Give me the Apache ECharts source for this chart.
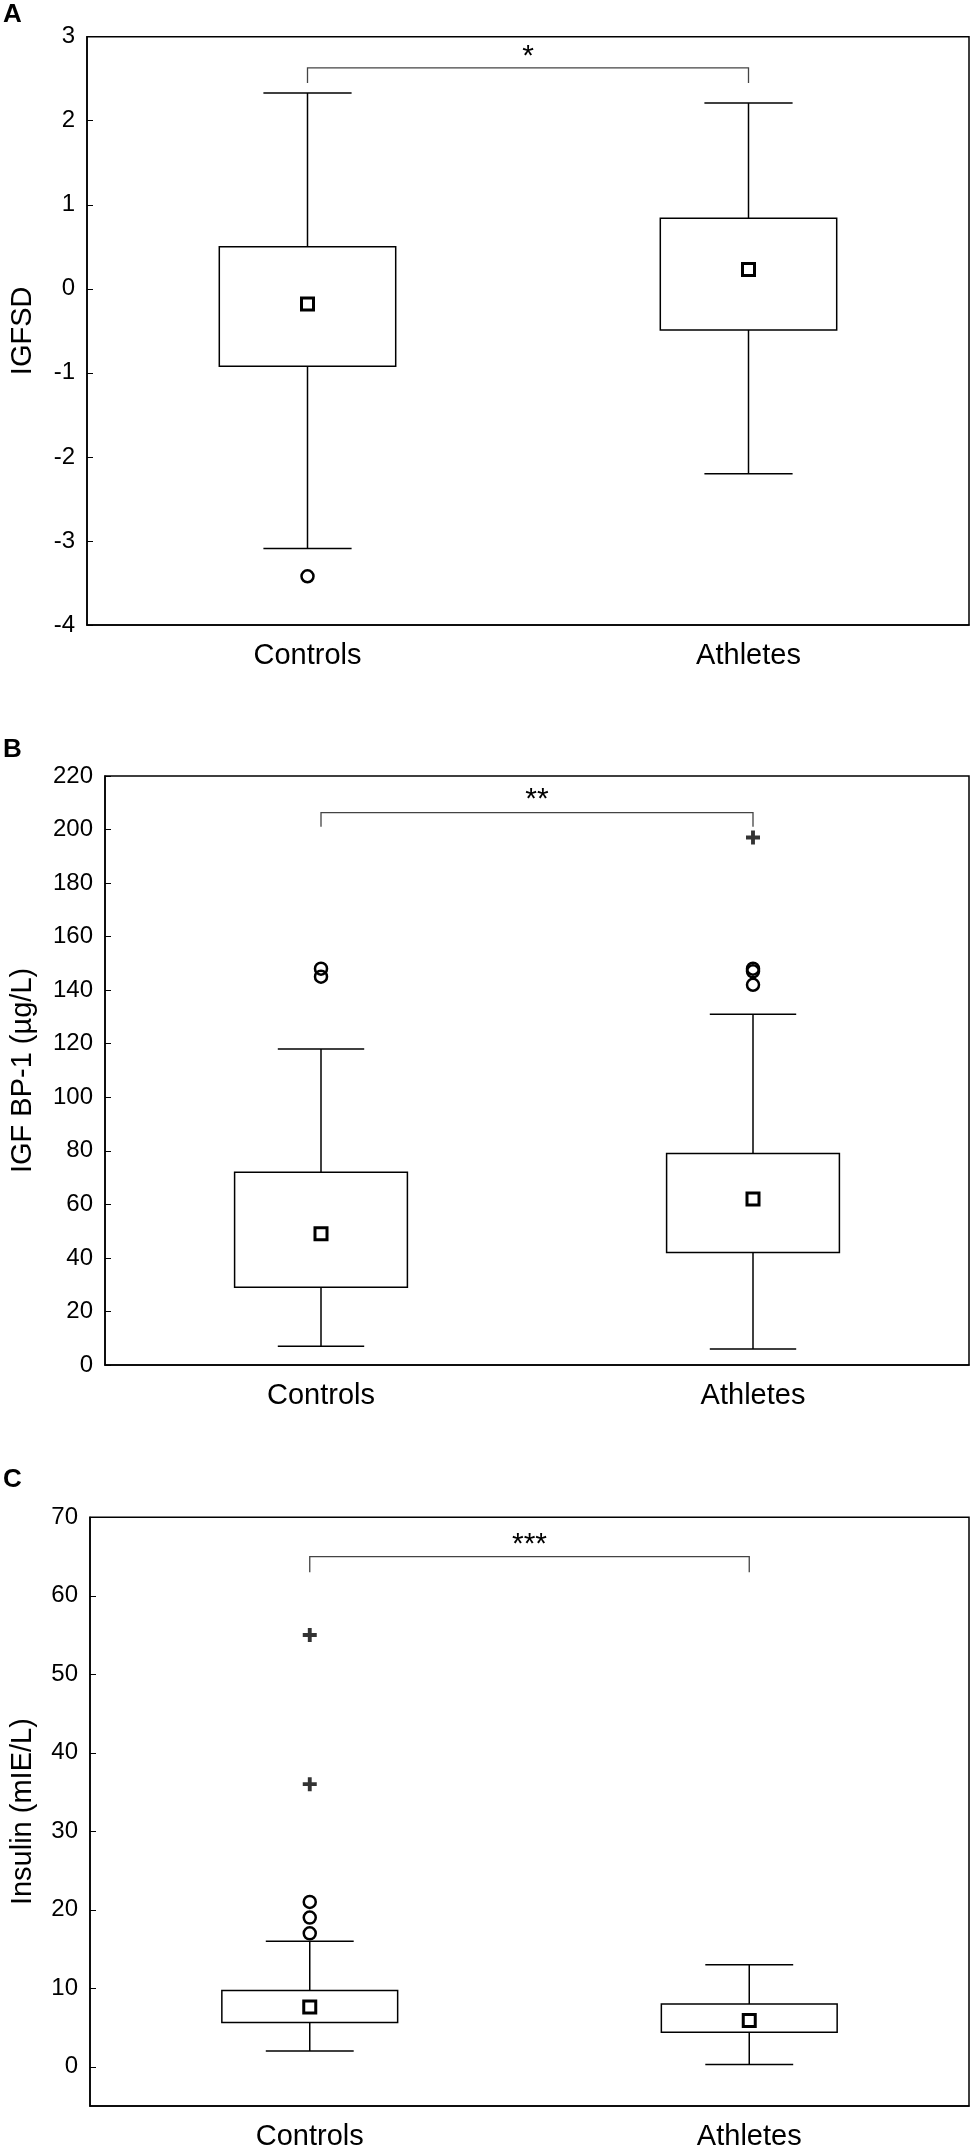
<!DOCTYPE html>
<html>
<head>
<meta charset="utf-8">
<script src="https://cdn.jsdelivr.net/npm/echarts@6/dist/echarts.min.js"></script>
<style>
  html, body { margin: 0; padding: 0; background: #fff; }
  #chart { width: 973px; height: 2151px; }
</style>
</head>
<body>
<div id="chart"></div>
<script>
var categories = ['Controls', 'Athletes'];

// box values: [min, q1, mean, q3, max]
var igfsdBox = [[-3.09, -0.92, -0.18, 0.5, 2.33], [-2.2, -0.49, 0.23, 0.84, 2.21]];
var igfsdOutliers = [[0, -3.42]];
var igfsdExtremes = [];

var bp1Box = [[7, 29, 49, 72, 118], [6, 42, 62, 79, 131]];
var bp1Outliers = [[0, 148], [0, 145], [1, 148], [1, 147], [1, 142]];
var bp1Extremes = [[1, 197]];

var insulinBox = [[2, 5.65, 7.6, 9.7, 16], [0.3, 4.4, 5.9, 8.0, 13]];
var insulinOutliers = [[0, 21], [0, 19], [0, 17]];
var insulinExtremes = [[0, 55], [0, 36]];

var sigLabels = ['*', '**', '***'];
var panelLetters = ['A', 'B', 'C'];
var axisNames = ['IGFSD', 'IGF BP-1 (µg/L)', 'Insulin (mIE/L)'];

var font = 'Liberation Sans, Arial, sans-serif';

var panels = [
  { top: 36.7, height: 588.3, left: 82, min: -4, max: 3, interval: 1, nameGap: 50,
    box: igfsdBox, outl: igfsdOutliers, ext: igfsdExtremes, bar: [2.63, 2.45, 2.76], letterTop: 2 },
  { top: 775.9, height: 589.1, left: 100.5, min: 0, max: 220, interval: 20, nameGap: 68,
    box: bp1Box, outl: bp1Outliers, ext: bp1Extremes, bar: [206.3, 201, 211], letterTop: 737 },
  { top: 1517.3, height: 590.7, left: 85, min: -5, max: 70, ticks: [0, 10, 20, 30, 40, 50, 60, 70], nameGap: 53,
    box: insulinBox, outl: insulinOutliers, ext: insulinExtremes, bar: [65, 63, 66.5], letterTop: 1467 }
];

function renderBox(params, api) {
  var x = api.value(0);
  var band = api.size([1, 0])[0];
  var bw = band * 0.4, cw = band * 0.2;
  var pMin = api.coord([x, api.value(1)]);
  var pQ1 = api.coord([x, api.value(2)]);
  var pMean = api.coord([x, api.value(3)]);
  var pQ3 = api.coord([x, api.value(4)]);
  var pMax = api.coord([x, api.value(5)]);
  var cx = pMin[0];
  var ls = { stroke: '#000', lineWidth: 1.5 };
  var s = 12;
  return {
    type: 'group',
    children: [
      { type: 'line', shape: { x1: cx, y1: pMin[1], x2: cx, y2: pQ1[1] }, style: ls },
      { type: 'line', shape: { x1: cx, y1: pQ3[1], x2: cx, y2: pMax[1] }, style: ls },
      { type: 'line', shape: { x1: cx - cw / 2, y1: pMin[1], x2: cx + cw / 2, y2: pMin[1] }, style: ls },
      { type: 'line', shape: { x1: cx - cw / 2, y1: pMax[1], x2: cx + cw / 2, y2: pMax[1] }, style: ls },
      { type: 'rect', shape: { x: cx - bw / 2, y: pQ3[1], width: bw, height: pQ1[1] - pQ3[1] },
        style: { fill: '#fff', stroke: '#000', lineWidth: 1.5 } },
      { type: 'rect', shape: { x: cx - s / 2, y: pMean[1] - s / 2, width: s, height: s },
        style: { fill: 'none', stroke: '#000', lineWidth: 3 } }
    ]
  };
}

function makeBracket(bar, label) {
  return function (params, api) {
    var a = api.coord([0, bar[1]]);
    var b = api.coord([0, bar[0]]);
    var c = api.coord([1, bar[0]]);
    var d = api.coord([1, bar[1]]);
    var t = api.coord([0.5, bar[2]]);
    return {
      type: 'group',
      children: [
        { type: 'polyline', shape: { points: [a, b, c, d] },
          style: { fill: 'none', stroke: '#444', lineWidth: 1.3 } },
        { type: 'text', x: (b[0] + c[0]) / 2, y: t[1],
          style: { text: label, fontSize: 30, fontFamily: font, fill: '#000',
                   align: 'center', verticalAlign: 'middle' } }
      ]
    };
  };
}

var option = {
  backgroundColor: '#fff',
  animation: false,
  title: [],
  grid: [],
  xAxis: [],
  yAxis: [],
  series: []
};

panels.forEach(function (p, i) {
  option.title.push({
    text: panelLetters[i], left: 3, top: p.letterTop, padding: 0,
    textStyle: { fontSize: 26, fontWeight: 'bold', fontFamily: font, color: '#000' }
  });
  option.grid.push({
    left: p.left, right: 4, top: p.top, height: p.height,
    show: true, borderColor: '#000', borderWidth: 1.5, backgroundColor: 'transparent'
  });
  option.xAxis.push({
    type: 'category', gridIndex: i, data: categories, boundaryGap: true,
    axisLine: { onZero: false, lineStyle: { color: '#000', width: 1.5 } },
    axisTick: { inside: true, alignWithLabel: true, length: 8, lineStyle: { color: '#000' } },
    axisLabel: { color: '#000', fontSize: 29, fontFamily: font, margin: 16 },
    splitLine: { show: false }
  });
  var y = {
    type: 'value', gridIndex: i, min: p.min, max: p.max,
    name: axisNames[i], nameLocation: 'middle', nameGap: p.nameGap,
    nameTextStyle: { fontSize: 29, fontFamily: font, color: '#000' },
    axisLine: { show: true, onZero: false, lineStyle: { color: '#000', width: 1.5 } },
    axisTick: { show: true, inside: true, length: 6, lineStyle: { color: '#000' } },
    axisLabel: { color: '#000', fontSize: 24, fontFamily: font, margin: 12 },
    splitLine: { show: false }
  };
  if (p.interval) {
    y.interval = p.interval;
  } else {
    y.axisLabel.customValues = p.ticks;
    y.axisTick.customValues = p.ticks;
  }
  option.yAxis.push(y);

  option.series.push({
    type: 'custom', xAxisIndex: i, yAxisIndex: i,
    renderItem: renderBox,
    encode: { x: 0, y: [1, 2, 3, 4, 5] },
    data: p.box.map(function (v, k) { return [k].concat(v); }),
    z: 2
  });
  option.series.push({
    type: 'scatter', xAxisIndex: i, yAxisIndex: i,
    data: p.outl, symbol: 'circle', symbolSize: 12,
    itemStyle: { color: 'rgba(0,0,0,0)', borderColor: '#000', borderWidth: 2.5, opacity: 1 },
    z: 3
  });
  option.series.push({
    type: 'scatter', xAxisIndex: i, yAxisIndex: i,
    data: p.ext, symbol: 'path://M4.7,0L8.3,0L8.3,4.7L13,4.7L13,8.3L8.3,8.3L8.3,13L4.7,13L4.7,8.3L0,8.3L0,4.7L4.7,4.7Z', symbolSize: 14,
    itemStyle: { color: '#000' },
    z: 3
  });
  option.series.push({
    type: 'custom', xAxisIndex: i, yAxisIndex: i,
    renderItem: makeBracket(p.bar, sigLabels[i]),
    data: [[0, p.bar[0]]],
    z: 4
  });
});

var chart = echarts.init(document.getElementById('chart'));
chart.setOption(option);
</script>
</body>
</html>
